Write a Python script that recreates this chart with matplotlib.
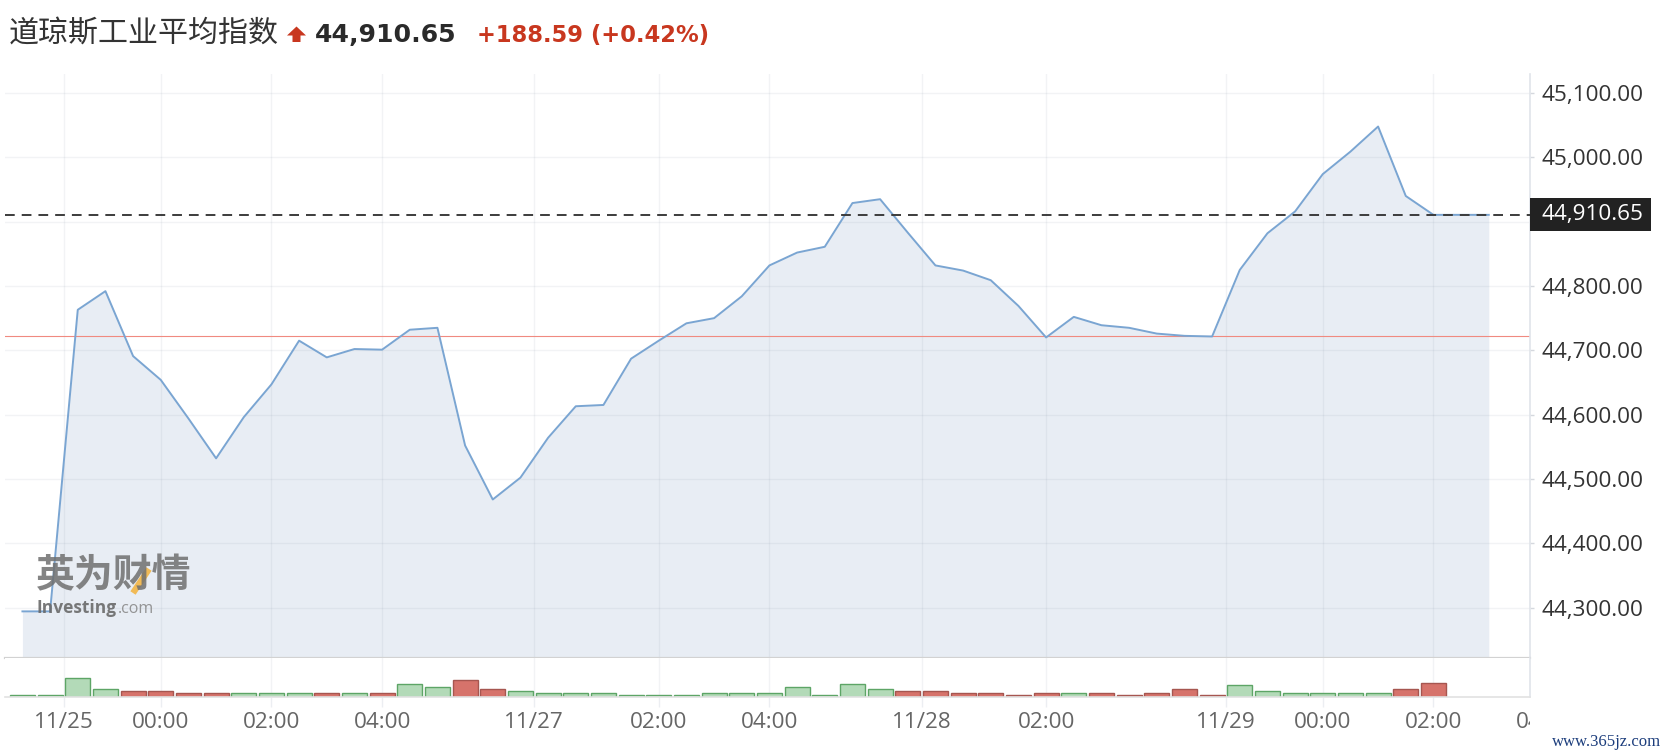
import matplotlib
matplotlib.use("Agg")
import matplotlib.pyplot as plt
from matplotlib.patches import Rectangle, Polygon
from matplotlib.lines import Line2D
from matplotlib.transforms import (Bbox, TransformedBbox, blended_transform_factory,
                                   offset_copy)

# price closes, one per 30-minute bar (index = bar number)
price = [44294, 44294, 44763, 44792, 44691, 44654, 44594, 44532, 44596, 44647,
         44715, 44689, 44702, 44701, 44732, 44735, 44552, 44468, 44502, 44564,
         44613, 44615, 44687, 44715, 44742, 44750, 44784, 44832, 44852, 44861,
         44929, 44935, 44883, 44832, 44824, 44809, 44769, 44720, 44752, 44739,
         44735, 44726, 44722.5, 44721.5, 44825, 44882, 44916, 44974, 45009, 45048,
         44940, 44910.65, 44910.65, 44910.65]
# volume, relative units (one per traded bar)
volume = [7, 7, 58, 23, 18, 18, 13, 13, 13, 13, 13, 13, 13, 13, 40, 29, 52, 24, 17, 13,
          13, 13, 7, 7, 7, 13, 13, 13, 29, 7, 40, 23, 18, 18, 13, 13, 7, 13, 13, 13,
          7, 13, 24, 7, 35, 17, 13, 13, 13, 13, 24, 41]
tick_pos = [1.5, 5, 9, 13, 18.5, 23, 27, 32.5, 37, 43.5, 47, 51, 55]
tick_labels = ['11/25', '00:00', '02:00', '04:00', '11/27', '02:00', '04:00',
               '11/28', '02:00', '11/29', '00:00', '02:00', '04:00']
y_ticks = [44300, 44400, 44500, 44600, 44700, 44800, 44900, 45000, 45100]
last_price = 44910.65
change = 188.59
change_pct = 0.42
prev_close = last_price - change

W, H = 1669, 756


def fx(px):
    return px / W


def fy(py):
    # py measured from the top of the image
    return 1 - py / H


plt.rcParams['font.family'] = ['Open Sans', 'DejaVu Sans']
fig = plt.figure(figsize=(W / 100, H / 100), dpi=100)
fig.patch.set_facecolor('white')

left, right = 5, 1530
ax = fig.add_axes([fx(left), fy(658), fx(right) - fx(left), fy(74) - fy(658)])
axv = fig.add_axes([fx(left), fy(697), fx(right) - fx(left), fy(658) - fy(697)])

xlim = (-0.63, 54.49)
ylim = (44221.5, 45129.7)
grid_kw = dict(color='#8a96aa', alpha=0.11, lw=1.0)
lab_size = 16.2

# ---- price panel
x = list(range(len(price)))
ax.fill_between(x, price, ylim[0] - 200, color='#e8edf4', zorder=0.3, lw=0)
ax.plot(x, price, color='#7aa5d2', lw=1.4, zorder=2)
ax.axhline(prev_close, color='#f08a80', lw=0.8, zorder=1.5)
ax.axhline(last_price, color='#3c3c3c', lw=1.4, ls=(0, (5, 3.6)), zorder=3)
ax.set_xticks(tick_pos[:-1])
ax.set_xticklabels([])
ax.tick_params(axis='x', length=0)
ax.set_yticks(y_ticks)
# the 44,900 label sits under the last-price tag
ax.set_yticklabels(['' if v == 44900 else '{:,.2f}'.format(v) for v in y_ticks])
ax.set_xlim(*xlim)
ax.set_ylim(*ylim)
ax.yaxis.tick_right()
ax.tick_params(axis='y', length=3, width=1, color='#d5d8de', pad=5,
               labelsize=lab_size, labelcolor='#333333')
ax.grid(True, **grid_kw)
ax.set_axisbelow(True)
for s in ['top', 'left']:
    ax.spines[s].set_visible(False)
ax.spines['bottom'].set_color('#d2d2d2')
ax.spines['bottom'].set_linewidth(1.6)
ax.spines['right'].set_color('#e0e4ea')
ax.spines['right'].set_linewidth(1.2)

# last price tag on the axis
blend = blended_transform_factory(ax.transAxes, ax.transData)
px_per_unit = (fy(74) - fy(658)) * H / (ylim[1] - ylim[0])
ax_w = right - left
ax.add_patch(Rectangle((1.0, last_price - 16.5 / px_per_unit), 121 / ax_w, 33 / px_per_unit,
                       transform=blend, facecolor='#222222', edgecolor='none',
                       clip_on=False, zorder=5))
ax.text(1.0 + 11 / ax_w, last_price, '{:,.2f}'.format(last_price), transform=blend,
        color='white', fontsize=lab_size, va='center', ha='left', zorder=6)

# ---- volume panel
vol_colors = []
for i in range(len(volume)):
    up = i == 0 or price[i] >= price[i - 1]
    vol_colors.append(('#b3dab8', '#5da566') if up else ('#d6736b', '#a65650'))
axv.bar(range(len(volume)), volume, width=0.9,
        color=[c[0] for c in vol_colors], edgecolor=[c[1] for c in vol_colors],
        linewidth=1.0, zorder=2)
axv.set_yticks([])
axv.set_xticks(tick_pos[:-1])
axv.set_xticklabels(tick_labels[:-1])
axv.set_xlim(*xlim)
axv.set_ylim(0, 117)
axv.tick_params(axis='x', length=7, width=1, color='#eceef2', pad=4,
                labelsize=lab_size, labelcolor='#666666')
axv.grid(True, axis='x', **grid_kw)
axv.set_axisbelow(True)
for s in ['top', 'left']:
    axv.spines[s].set_visible(False)
axv.spines['bottom'].set_color('#e2e2e2')
axv.spines['bottom'].set_linewidth(1.2)
axv.spines['right'].set_color('#e0e4ea')
axv.spines['right'].set_linewidth(1.2)

# last tick label lies past the plot and is cut by the price axis
clip = TransformedBbox(Bbox([[0, 0], [fx(right), 1]]), fig.transFigure)
lab_trans = offset_copy(blended_transform_factory(axv.transData, axv.transAxes),
                        fig=fig, y=-11, units='points')
last_lab = fig.text(tick_pos[-1], 0, tick_labels[-1], transform=lab_trans,
                    fontsize=lab_size, color='#666666', ha='center', va='top')
last_lab.set_clip_box(clip)
last_lab.set_clip_on(True)

# ---- header
fig.text(fx(9), fy(42), '道琼斯工业平均指数', fontsize=21.6, color='#333333',
         family=['Noto Sans CJK SC', 'DejaVu Sans'], va='baseline', ha='left')
arrow = [(296.5, 26.5), (306, 35.5), (300.5, 35.5), (300.5, 42), (292.5, 42),
         (292.5, 35.5), (287, 35.5)]
fig.patches.append(Polygon([(fx(a), fy(b)) for a, b in arrow], closed=True,
                           transform=fig.transFigure, facecolor='#c8371f',
                           edgecolor='none'))
fig.text(fx(315), fy(42), '{:,.2f}'.format(last_price), fontsize=18.1,
         fontweight='bold', color='#2a2a2a', family='DejaVu Sans', va='baseline')
fig.text(fx(477), fy(42), '+{:.2f} (+{:.2f}%)'.format(change, change_pct), fontsize=16.3,
         fontweight='bold', color='#c8371f', family='DejaVu Sans', va='baseline')

# ---- watermarks
fig.text(fx(36), fy(576), '英为财情', fontsize=28, fontweight='bold', color='#6f6f6f',
         alpha=0.85, family=['Noto Sans CJK SC', 'DejaVu Sans'], va='center', ha='left')
fig.lines.append(Line2D([fx(133), fx(149)], [fy(593), fy(569)], transform=fig.transFigure,
                        color='#f3b23a', lw=4.5, alpha=0.85, solid_capstyle='butt'))
inv = fig.text(fx(37), fy(613), 'Investing', fontsize=12.5, fontweight='bold',
               color='#6a6a6a', alpha=0.9, va='baseline', ha='left')
renderer = fig.canvas.get_renderer()
inv_end = inv.get_window_extent(renderer).x1
fig.text(inv_end / W + 0.0005, fy(613), '.com', fontsize=11.5, color='#8a8a8a', alpha=0.9,
         va='baseline', ha='left')
fig.text(fx(1661), fy(746), 'www.365jz.com', fontsize=12, color='#1c3d7c',
         family=['Liberation Serif', 'DejaVu Serif'], va='baseline', ha='right')

fig.savefig('out.png', dpi=100, facecolor='white')
